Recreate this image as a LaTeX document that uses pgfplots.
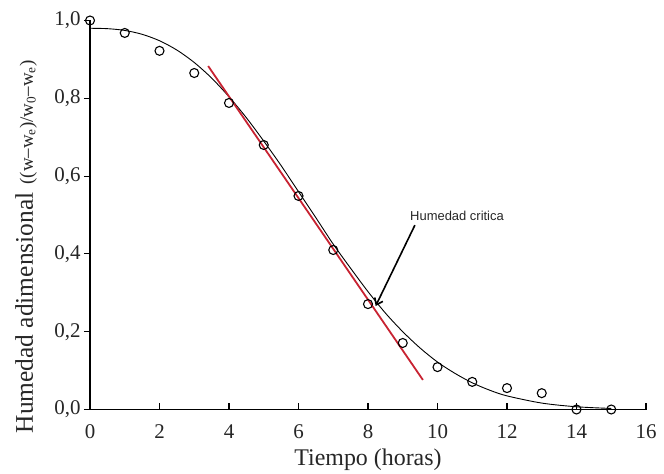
\documentclass[border=0pt]{standalone}
\usepackage{pgfplots}
\pgfplotsset{compat=1.18}
\usepackage{fontspec}
\setmainfont{Liberation Serif}
\newfontfamily\arialfont{Liberation Sans}
\usetikzlibrary{arrows.meta}
\definecolor{redline}{RGB}{200,35,50}
\begin{document}
\begin{tikzpicture}
\useasboundingbox (-90bp,-64.5bp) rectangle (574bp,409.5bp);
\begin{axis}[
  scale only axis,
  width=556bp, height=389bp,
  xmin=0, xmax=16, ymin=0, ymax=1.0,
  axis x line*=bottom, axis y line*=left,
  axis line style={line width=1.2pt},
  xtick={0,2,...,16},
  ytick={0,0.2,...,1.0},
  xtick align=inside, ytick align=outside,
  major tick length=6bp,
  tick style={line width=1.1pt, black},
  clip=false,
  /pgf/number format/assume math mode=true,
  yticklabel style={/pgf/number format/.cd, use comma, fixed, fixed zerofill, precision=1},
  ticklabel style={font=\fontsize{21}{24}\selectfont, text=black!85},
  xticklabel style={yshift=-12bp},
  xlabel={Tiempo (horas)},
  xlabel style={font=\fontsize{24}{26}\selectfont, text=black!85, at={(axis description cs:0.5,-0.1427)}, anchor=base, inner sep=0pt},
  ylabel={{\fontsize{25.5}{28}\selectfont Humedad adimensional}\hspace{8bp}{\fontsize{19}{22}\selectfont ((w–w\textsubscript{e})/w\textsubscript{0}–w\textsubscript{e})}},
  ylabel style={at={(axis description cs:-0.115,0.418)}, anchor=center, text=black!85},
]
% fitted curve
\addplot[black, line width=0.9pt, smooth] coordinates {
 (0,0.980) (0.5,0.979) (1,0.9745) (1.5,0.9645) (2,0.948) (2.5,0.924) (3,0.892)
 (3.5,0.852) (4,0.804) (4.5,0.750) (5,0.690) (5.5,0.627) (6,0.560) (6.5,0.493)
 (7,0.425) (7.5,0.363) (8,0.303) (8.5,0.248) (9,0.200) (9.5,0.158) (10,0.122)
 (10.5,0.093) (11,0.0686) (11.5,0.0497) (12,0.035) (13,0.0165) (14,0.007) (15,0.0027)
};
% experimental points
\addplot[only marks, mark=o, mark size=4.5bp, mark options={line width=1.1pt, black, fill=white}] coordinates {
 (0,1.000) (1,0.968) (2,0.922) (3,0.865) (4,0.788) (5,0.680) (6,0.549) (7,0.410)
 (8,0.271) (9,0.171) (10,0.109) (11,0.071) (12,0.055) (13,0.042) (14,0.0) (15,0.0)
};
% tangent line
\addplot[redline, line width=1.8pt] coordinates {(3.40,0.883) (9.58,0.076)};
% annotation
\draw[black, line width=1.6pt, -{Straight Barb[length=6bp,width=9bp]}] (axis cs:9.35,0.474) -- (axis cs:8.22,0.266);
\node[anchor=west, inner sep=0, font=\arialfont\fontsize{13}{15}\selectfont, text=black!85] at (axis cs:9.21,0.497) {Humedad critica};
\end{axis}
\end{tikzpicture}
\end{document}
